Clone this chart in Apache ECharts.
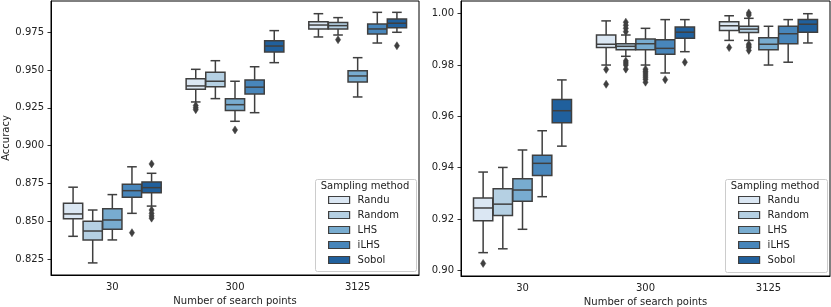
<!DOCTYPE html>
<html><head><meta charset="utf-8">
<script src="https://cdn.jsdelivr.net/npm/echarts@6/dist/echarts.min.js"></script>
<style>html,body{margin:0;padding:0;background:#fff}#c{width:831px;height:307px}</style>
</head><body><div id="c"></div>
<script>
const categories = ['30', '300', '3125'];
const methods = ['Randu', 'Random', 'LHS', 'iLHS', 'Sobol'];
const leftTicks = [0.825, 0.850, 0.875, 0.900, 0.925, 0.950, 0.975];
const rightTicks = [0.90, 0.92, 0.94, 0.96, 0.98, 1.00];
const xName = 'Number of search points';
const yName = 'Accuracy';
const legendTitle = 'Sampling method';

// [low whisker, q1, median, q3, high whisker] for categories 30, 300, 3125
const leftRandu  = [[0.8400, 0.8517, 0.8548, 0.8619, 0.8725], [0.9289, 0.9373, 0.9395, 0.9443, 0.9505], [0.9719, 0.9772, 0.9798, 0.9820, 0.9873]];
const leftRandom = [[0.8224, 0.8376, 0.8435, 0.8500, 0.8574], [0.9311, 0.9390, 0.9426, 0.9486, 0.9562], [0.9732, 0.9772, 0.9794, 0.9814, 0.9847]];
const leftLHS    = [[0.8376, 0.8447, 0.8508, 0.8583, 0.8676], [0.9161, 0.9232, 0.9271, 0.9311, 0.9426], [0.9322, 0.9421, 0.9461, 0.9496, 0.9582]];
const leftILHS   = [[0.8552, 0.8658, 0.8702, 0.8744, 0.8860], [0.9218, 0.9342, 0.9387, 0.9435, 0.9522], [0.9679, 0.9739, 0.9772, 0.9805, 0.9882]];
const leftSobol  = [[0.8600, 0.8689, 0.8722, 0.8760, 0.8817], [0.9549, 0.9620, 0.9659, 0.9694, 0.9761], [0.9750, 0.9780, 0.9810, 0.9838, 0.9882]];

// outliers: [category index, value]
const leftOutRandu  = [[1, 0.9265], [1, 0.9250], [1, 0.9238]];
const leftOutRandom = [[2, 0.9701]];
const leftOutLHS    = [[1, 0.9104]];
const leftOutILHS   = [[0, 0.8424]];
const leftOutSobol  = [[0, 0.8879], [0, 0.8574], [0, 0.8552], [0, 0.8535], [0, 0.8520], [2, 0.9661]];

const rightRandu  = [[0.9069, 0.9193, 0.9243, 0.9282, 0.9383], [0.9800, 0.9868, 0.9881, 0.9917, 0.9972], [0.9896, 0.9935, 0.9953, 0.9969, 0.9992]];
const rightRandom = [[0.9084, 0.9214, 0.9258, 0.9318, 0.9401], [0.9834, 0.9860, 0.9873, 0.9883, 0.9917], [0.9896, 0.9927, 0.9940, 0.9951, 0.9982]];
const rightLHS    = [[0.9160, 0.9269, 0.9313, 0.9357, 0.9469], [0.9800, 0.9860, 0.9883, 0.9901, 0.9943], [0.9800, 0.9860, 0.9881, 0.9906, 0.9951]];
const rightILHS   = [[0.9287, 0.9370, 0.9417, 0.9448, 0.9544], [0.9769, 0.9842, 0.9865, 0.9899, 0.9977], [0.9811, 0.9883, 0.9922, 0.9951, 0.9977]];
const rightSobol  = [[0.9484, 0.9575, 0.9622, 0.9666, 0.9742], [0.9852, 0.9904, 0.9928, 0.9948, 0.9977], [0.9886, 0.9928, 0.9959, 0.9977, 1.0000]];

const rightOutRandu  = [[0, 0.9027], [1, 0.9783], [1, 0.9725], [2, 0.9868]];
const rightOutRandom = [[1, 0.9967], [1, 0.9955], [1, 0.9943], [1, 0.9930], [1, 0.9816], [1, 0.9808], [1, 0.9800], [1, 0.9784],
                        [2, 1.0003], [2, 0.9995], [2, 0.9881], [2, 0.9874], [2, 0.9868], [2, 0.9857]];
const rightOutLHS    = [[1, 0.9784], [1, 0.9776], [1, 0.9769], [1, 0.9761], [1, 0.9753], [1, 0.9745], [1, 0.9733]];
const rightOutILHS   = [[1, 0.9743]];
const rightOutSobol  = [[1, 0.9811]];

const colors = ['#dbe7f3', '#b5d0e3', '#78acd0', '#4886bb', '#20609d'];
const edge = '#3f3f3f';
const font = 'DejaVu Sans';
const textColor = '#222';

function boxSeries(idx, rows, ax) {
  return {
    type: 'custom', name: methods[idx], xAxisIndex: ax, yAxisIndex: ax, z: 3,
    itemStyle: { color: colors[idx] },
    data: rows.map((r, i) => [i].concat(r)),
    encode: { x: 0, y: [1, 2, 3, 4, 5] },
    renderItem(params, api) {
      const cat = api.value(0);
      const bw = api.size([1, 0])[0];
      const slot = bw * 0.8 / 5;
      const off = (idx - 2) * slot;
      const w = slot * 0.98;
      const cap = w / 4;
      const p = k => api.coord([cat, api.value(k)]);
      const lo = p(1), q1 = p(2), md = p(3), q3 = p(4), hi = p(5);
      const x = lo[0] + off;
      const ls = { stroke: edge, lineWidth: 1.5 };
      return { type: 'group', children: [
        { type: 'line', shape: { x1: x, y1: lo[1], x2: x, y2: q1[1] }, style: ls },
        { type: 'line', shape: { x1: x, y1: q3[1], x2: x, y2: hi[1] }, style: ls },
        { type: 'line', shape: { x1: x - cap, y1: lo[1], x2: x + cap, y2: lo[1] }, style: ls },
        { type: 'line', shape: { x1: x - cap, y1: hi[1], x2: x + cap, y2: hi[1] }, style: ls },
        { type: 'rect', shape: { x: x - w / 2, y: q3[1], width: w, height: q1[1] - q3[1] },
          style: { fill: colors[idx], stroke: edge, lineWidth: 1.5 } },
        { type: 'line', shape: { x1: x - w / 2, y1: md[1], x2: x + w / 2, y2: md[1] }, style: ls }
      ]};
    }
  };
}

function outSeries(idx, pts, ax) {
  return {
    type: 'custom', name: methods[idx], xAxisIndex: ax, yAxisIndex: ax, z: 3,
    itemStyle: { color: colors[idx] },
    data: pts,
    encode: { x: 0, y: 1 },
    renderItem(params, api) {
      const bw = api.size([1, 0])[0];
      const off = (idx - 2) * bw * 0.8 / 5;
      const c = api.coord([api.value(0), api.value(1)]);
      const x = c[0] + off, y = c[1];
      return { type: 'polygon', shape: { points: [[x, y - 4], [x + 2.6, y], [x, y + 4], [x - 2.6, y]] },
        style: { fill: edge, stroke: edge, lineWidth: 0.5 } };
    }
  };
}

const leftBoxes = [leftRandu, leftRandom, leftLHS, leftILHS, leftSobol];
const leftOuts = [leftOutRandu, leftOutRandom, leftOutLHS, leftOutILHS, leftOutSobol];
const rightBoxes = [rightRandu, rightRandom, rightLHS, rightILHS, rightSobol];
const rightOuts = [rightOutRandu, rightOutRandom, rightOutLHS, rightOutILHS, rightOutSobol];

const series = [];
leftBoxes.forEach((rows, i) => series.push(boxSeries(i, rows, 0)));
leftOuts.forEach((pts, i) => series.push(outSeries(i, pts, 0)));
rightBoxes.forEach((rows, i) => series.push(boxSeries(i, rows, 1)));
rightOuts.forEach((pts, i) => series.push(outSeries(i, pts, 1)));

function xAxis(gi) {
  return {
    gridIndex: gi, type: 'category', data: categories, boundaryGap: true,
    axisLine: { lineStyle: { color: '#000', width: 1 } },
    axisTick: { alignWithLabel: true, length: 3.5, lineStyle: { color: '#000', width: 0.8 } },
    axisLabel: { margin: 7, fontSize: 10, color: textColor, fontFamily: font },
    name: xName, nameLocation: 'middle', nameGap: 19,
    nameTextStyle: { fontSize: 10, color: textColor, fontFamily: font },
    splitLine: { show: false }
  };
}
function yAxis(gi, min, max, ticks, dec, name) {
  const a = {
    gridIndex: gi, type: 'value', min: min, max: max, scale: true,
    axisLine: { show: true, lineStyle: { color: '#000', width: 1 } },
    axisTick: { show: true, length: 3.5, customValues: ticks, lineStyle: { color: '#000', width: 0.8 } },
    axisLabel: { customValues: ticks, fontSize: 10, color: textColor, fontFamily: font, margin: 7,
      formatter: v => v.toFixed(dec) },
    splitLine: { show: false }
  };
  if (name) {
    a.name = name; a.nameLocation = 'middle'; a.nameGap = 40;
    a.nameTextStyle = { fontSize: 10, color: textColor, fontFamily: font };
  }
  return a;
}

function legend(left) {
  return {
    data: methods, orient: 'vertical', left: left, top: 194, padding: 0,
    icon: 'rect', itemWidth: 21, itemHeight: 7, itemGap: 3, z: 20,
    itemStyle: { borderColor: edge, borderWidth: 1.2 },
    textStyle: { fontSize: 10, lineHeight: 12, color: textColor, fontFamily: font, padding: [0, 0, 0, 3] }
  };
}
function legendFrame(x, w, h, cx) {
  return [
    { type: 'rect', z: 10, shape: { x: x, y: 179.5, width: w, height: h, r: 2 },
      style: { fill: 'rgba(255,255,255,0.85)', stroke: '#cccccc', lineWidth: 1 } },
    { type: 'text', z: 11, x: cx, y: 186,
      style: { text: legendTitle, fontSize: 10, fill: textColor, fontFamily: font, align: 'center', verticalAlign: 'middle' } }
  ];
}

const chart = echarts.init(document.getElementById('c'), null, { renderer: 'canvas' });
chart.setOption({
  animation: false,
  backgroundColor: '#fff',
  grid: [
    { left: 51, right: 412, top: 1, bottom: 32, show: true, borderColor: '#000', borderWidth: 1,
      backgroundColor: 'transparent', containLabel: false, outerBoundsMode: 'none' },
    { left: 461, right: 1, top: 1, bottom: 31, show: true, borderColor: '#000', borderWidth: 1,
      backgroundColor: 'transparent', containLabel: false, outerBoundsMode: 'none' }
  ],
  xAxis: [xAxis(0), xAxis(1)],
  yAxis: [yAxis(0, 0.8144, 0.9957, leftTicks, 3, yName), yAxis(1, 0.8978, 1.00495, rightTicks, 2, null)],
  legend: [legend(328), legend(738)],
  graphic: legendFrame(315.5, 101, 92, 365).concat(legendFrame(725.5, 102, 93, 775)),
  series: series
});
</script>
</body></html>
